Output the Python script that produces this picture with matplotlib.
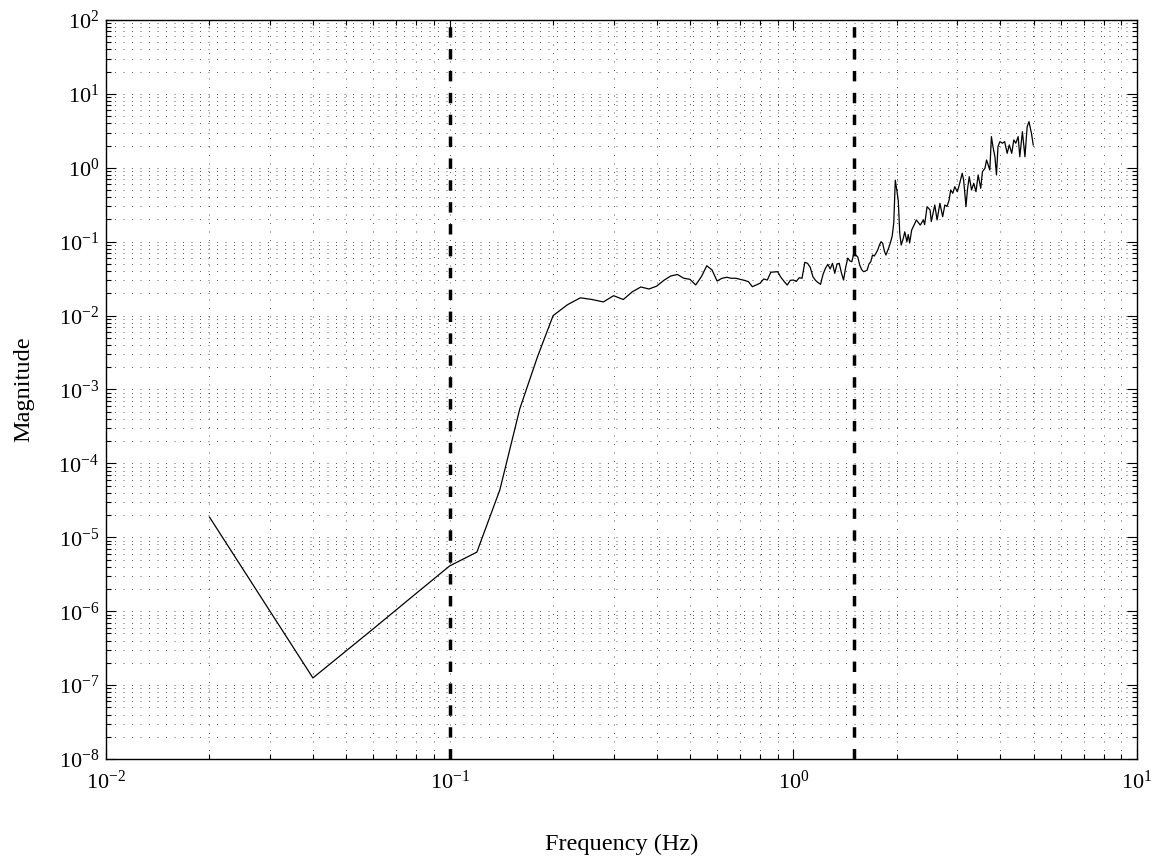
import numpy as np
import matplotlib
matplotlib.use("Agg")
import matplotlib.pyplot as plt
from matplotlib.ticker import LogLocator, LogFormatterMathtext, NullFormatter

plt.rcParams['font.family'] = 'serif'
plt.rcParams['font.serif'] = ['Liberation Serif', 'DejaVu Serif']
plt.rcParams['mathtext.fontset'] = 'custom'
plt.rcParams['mathtext.rm'] = 'Liberation Serif'
plt.rcParams['mathtext.it'] = 'Liberation Serif:italic'
plt.rcParams['mathtext.bf'] = 'Liberation Serif:bold'

# ---- data ----
freq = [0.02, 0.04, 0.06, 0.08, 0.10, 0.12, 0.14, 0.16, 0.18, 0.20,
        0.22, 0.24, 0.26, 0.28, 0.30, 0.32, 0.34, 0.36, 0.38, 0.40,
        0.42, 0.44, 0.46, 0.48, 0.50, 0.52, 0.54, 0.56, 0.58, 0.60,
        0.62, 0.64, 0.66, 0.68, 0.70, 0.72, 0.74, 0.76, 0.78, 0.80,
        0.82, 0.84, 0.86, 0.88, 0.90, 0.92, 0.94, 0.96, 0.98, 1.00,
        1.02, 1.04, 1.06, 1.08, 1.10, 1.12, 1.14, 1.16, 1.18, 1.20,
        1.22, 1.24, 1.26, 1.28, 1.30, 1.32, 1.34, 1.36, 1.38, 1.40,
        1.42, 1.44, 1.46, 1.48, 1.50, 1.52, 1.54, 1.56, 1.58, 1.60,
        1.62, 1.64, 1.66, 1.68, 1.70, 1.72, 1.74, 1.76, 1.78, 1.80,
        1.82, 1.84, 1.86, 1.88, 1.90, 1.92, 1.94, 1.96, 1.98, 2.00,
        2.02, 2.04, 2.06, 2.09, 2.11, 2.14, 2.16, 2.18, 2.21, 2.26,
        2.28, 2.34, 2.39, 2.41, 2.45, 2.50, 2.52, 2.58, 2.62, 2.67,
        2.72, 2.76, 2.80, 2.84, 2.87, 2.91, 2.95, 3.00, 3.04, 3.10,
        3.13, 3.18, 3.21, 3.25, 3.30, 3.35, 3.40, 3.45, 3.51, 3.55,
        3.61, 3.65, 3.69, 3.73, 3.77, 3.81, 3.86, 3.90, 3.94, 3.99,
        4.06, 4.12, 4.19, 4.25, 4.32, 4.38, 4.44, 4.51, 4.56, 4.64,
        4.72, 4.79, 4.85, 4.93, 4.99]

magnitude = [1.88e-5, 1.25e-7, 5.8e-7, 1.75e-6, 4.1e-6, 6.3e-6, 4.4e-5, 5.5e-4, 2.75e-3, 1.0e-2,
             1.4e-2, 1.74e-2, 1.65e-2, 1.53e-2, 1.86e-2, 1.65e-2, 2.1e-2, 2.44e-2, 2.29e-2, 2.5e-2,
             3.0e-2, 3.44e-2, 3.6e-2, 3.2e-2, 3.1e-2, 2.6e-2, 3.36e-2, 4.73e-2, 4.14e-2, 2.94e-2,
             3.2e-2, 3.3e-2, 3.2e-2, 3.2e-2, 3.1e-2, 3.0e-2, 2.88e-2, 2.46e-2, 2.6e-2, 2.74e-2,
             3.13e-2, 3.03e-2, 3.86e-2, 3.9e-2, 3.93e-2, 3.3e-2, 2.9e-2, 2.59e-2, 3.0e-2, 3.03e-2,
             2.9e-2, 3.26e-2, 3.2e-2, 5.26e-2, 5.1e-2, 4.5e-2, 3.36e-2, 3.0e-2, 2.8e-2, 2.65e-2,
             3.6e-2, 4.37e-2, 4.94e-2, 4.28e-2, 5.1e-2, 3.73e-2, 5.0e-2, 5.1e-2, 3.8e-2, 3.03e-2,
             4.5e-2, 6.0e-2, 5.5e-2, 5.36e-2, 7.03e-2, 6.6e-2, 6.2e-2, 4.84e-2, 4.2e-2, 3.93e-2,
             4.0e-2, 4.14e-2, 5.0e-2, 5.36e-2, 6.6e-2, 6.4e-2, 7.0e-2, 7.72e-2, 9.0e-2, 1.0e-1,
             9.5e-2, 7.5e-2, 6.6e-2, 7.5e-2, 8.55e-2, 1.0e-1, 1.2e-1, 1.8e-1, 6.8e-1, 5.0e-1,
             3.6e-1, 1.3e-1, 9.0e-2, 1.12e-1, 1.36e-1, 1.0e-1, 1.25e-1, 9.6e-2, 1.44e-1, 1.79e-1,
             1.97e-1, 1.68e-1, 1.97e-1, 1.7e-1, 2.98e-1, 2.69e-1, 1.87e-1, 3.14e-1, 1.97e-1, 3.31e-1,
             2.18e-1, 3.14e-1, 3.0e-1, 3.67e-1, 5.01e-1, 4.52e-1, 5.55e-1, 4.75e-1, 5.85e-1, 8.43e-1,
             6.84e-1, 2.98e-1, 5.01e-1, 7.59e-1, 5.01e-1, 6.17e-1, 4.75e-1, 8.0e-1, 5.28e-1, 8.86e-1,
             9.84e-1, 1.276, 1.091, 0.933, 2.64, 1.93, 1.41, 0.80, 1.93, 2.26,
             2.15, 2.26, 1.57, 2.04, 1.57, 2.38, 2.15, 2.64, 1.41, 3.08,
             1.41, 3.60, 4.21, 2.93, 2.04]

band_edges = [0.1, 1.5]

# ---- figure ----
fig = plt.figure(figsize=(11.55, 8.63), dpi=100)
ax = fig.add_axes([106 / 1155, 1 - 759 / 863, (1137 - 106) / 1155, (759 - 20) / 863])

ax.set_xscale('log')
ax.set_yscale('log')
ax.set_xlim(1e-2, 1e1)
ax.set_ylim(1e-8, 1e2)

ax.plot(freq, magnitude, color='black', linewidth=0.9, zorder=3)

for b in band_edges:
    ax.axvline(b, color='black', linewidth=2.5, linestyle=(0, (3.0, 3.3)), zorder=4)

ax.xaxis.set_major_locator(LogLocator(base=10, numticks=20))
ax.yaxis.set_major_locator(LogLocator(base=10, numticks=20))
ax.xaxis.set_minor_locator(LogLocator(base=10, subs=np.arange(2, 10), numticks=100))
ax.yaxis.set_minor_locator(LogLocator(base=10, subs=np.arange(2, 10), numticks=100))
ax.xaxis.set_major_formatter(LogFormatterMathtext())
ax.yaxis.set_major_formatter(LogFormatterMathtext())
ax.xaxis.set_minor_formatter(NullFormatter())
ax.yaxis.set_minor_formatter(NullFormatter())

ax.grid(True, which='both', color='0.25', linestyle=(0, (1.2, 9)), linewidth=0.6, zorder=0)

ax.tick_params(which='both', direction='in', top=True, right=True, width=0.8, colors='black')
ax.tick_params(which='major', length=7)
ax.tick_params(which='minor', length=3.5)
ax.tick_params(axis='x', which='major', labelsize=16, pad=8)
ax.tick_params(axis='y', which='major', labelsize=16, pad=5)

for s in ax.spines.values():
    s.set_linewidth(1.0)
    s.set_color('black')

ax.set_xlabel('Frequency (Hz)', fontsize=17.5, labelpad=29)
ax.set_ylabel('Magnitude', fontsize=17.5, labelpad=17)

fig.savefig('out.png', dpi=100)
